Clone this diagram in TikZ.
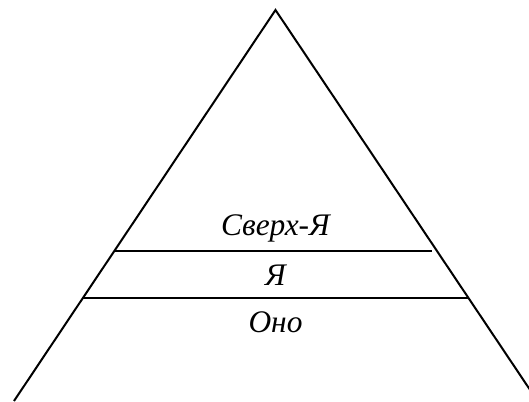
\documentclass[tikz,border=0pt]{standalone}
\usepackage{fontspec}
\setmainfont{Liberation Serif}
\usetikzlibrary{positioning}

\begin{document}
\begin{tikzpicture}[x=0.5pt,y=-0.5pt,line width=1pt,
    layer/.style={font=\fontsize{15.7}{18}\selectfont\itshape,inner sep=0pt}]
  \useasboundingbox (0,0) rectangle (529,401);
  \clip (0,0) rectangle (529,401);
  % ---- pyramid outline ----
  \coordinate (apex) at (275.5,10);
  \coordinate (bl) at (14,401);
  \coordinate (br) at (537.5,401);
  \draw (bl) -- (apex) -- (br);
  % dividing lines
  \draw (115,251) -- (432,251);
  \draw (82,298) -- (468,298);
  % layer names
  \node[layer] (superego) at (275.5,228){Сверх-Я};
  \node[layer] (ego) at (275.5,275){Я};
  \node[layer] (id) at (275.5,322){Оно};
\end{tikzpicture}
\end{document}
